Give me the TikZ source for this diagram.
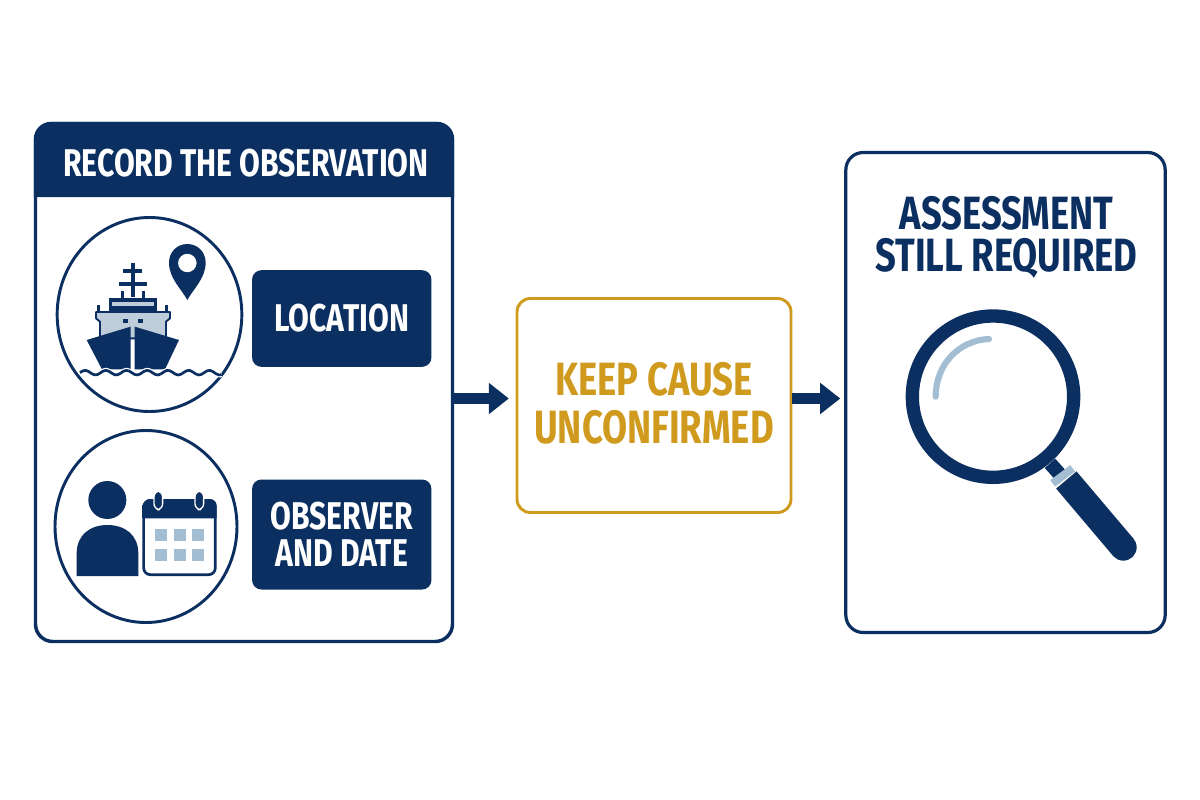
\documentclass[tikz,border=0pt]{standalone}
\usepackage{fontspec}
\setmainfont{Fira Sans}[FakeStretch=0.78]
\usetikzlibrary{arrows.meta,shapes.geometric}
\definecolor{navy}{HTML}{0B2F60}
\definecolor{gold}{HTML}{CF9A1E}
\definecolor{pale}{HTML}{A3BDD3}
\definecolor{deck}{HTML}{BFCCDA}
\tikzset{
  panel/.style={draw=navy,line width=2.6pt,rounded corners=13pt,fill=white,inner sep=0pt},
  goldbox/.style={draw=gold,line width=2.2pt,rounded corners=10pt,fill=white,inner sep=0pt},
  tag/.style={fill=navy,rounded corners=7pt,text=white,align=center,inner sep=0pt,font=\fontsize{29}{28}\selectfont\bfseries},
  ring/.style={draw=navy,line width=2.2pt,fill=white,ellipse,inner sep=0pt},
  title/.style={text=white,inner sep=0pt,font=\fontsize{29}{28}\selectfont\bfseries},
  big/.style={align=center,inner sep=0pt,font=\fontsize{35}{36}\selectfont\bfseries},
  bigtight/.style={align=center,inner sep=0pt,font=\fontsize{35}{32}\selectfont\bfseries},
  flow/.style={navy,line width=8.2pt,-{Triangle[length=15pt,width=22.5pt]}},
  icon/.style={scale=0.33333},
}
\begin{document}
\begin{tikzpicture}[x=0.75pt,y=-0.75pt]
\useasboundingbox[fill=white] (0,0) rectangle (1200,800);
% panels
\node[panel,minimum width=312.75pt,minimum height=388.5pt] (left) at (244,382.5) {};
\node[goldbox,minimum width=205.5pt,minimum height=160.5pt] (mid) at (654,405.5) {};
\node[panel,line width=2.4pt,minimum width=239.5pt,minimum height=360pt] (right) at (1005.5,392.5) {};
% header band
\fill[navy] (left.west |- 0,197) [rounded corners=13pt] -- (left.north west) -- (left.north east) [sharp corners] -- (left.east |- 0,197) -- cycle;
\node[title] (head) at (246,163.5) {RECORD THE OBSERVATION};
% circles
\node[ring,minimum width=138.5pt,minimum height=145.5pt] (c1) at (149.5,314.5) {};
\node[ring,minimum width=136.5pt,minimum height=144pt] (c2) at (146,526.5) {};
% tags
\node[tag,minimum width=134.5pt,minimum height=72.5pt] (loc) at (341.75,318.5) {LOCATION};
\node[tag,minimum width=134.5pt,minimum height=82.5pt] (obs) at (341.75,534.5) {OBSERVER\\AND DATE};
% texts
\node[big,text=gold] (keep) at (654,403) {KEEP CAUSE\\UNCONFIRMED};
\node[bigtight,text=navy] (assess) at (1006.5,237.5) {ASSESSMENT\\STILL REQUIRED};
% arrows
\coordinate (ya) at (0,398.5);
\draw[flow,shorten >=5pt] (left.east |- ya) -- (mid.west |- ya);
\draw[flow,shorten >=3pt] (mid.east |- ya) -- (right.west |- ya);
% ship
\begin{scope}[shift={(40,210)},icon]
  \fill[navy] (272,160) rectangle (284,262);
  \fill[navy] (250,178) rectangle (306,188);
  \fill[navy] (236,216) rectangle (322,228);
  \fill[navy] (244,244) rectangle (252,268);
  \fill[navy] (306,244) rectangle (314,268);
  \fill[navy] (207,265) rectangle (350,312);
  \fill[deck] (215,276) rectangle (342,288);
  \fill[navy] (172,284) rectangle (180,310);
  \fill[navy] (376,284) rectangle (384,310);
  \filldraw[fill=deck,draw=navy,line width=1.4pt,line join=round] (168,306) -- (390,306) -- (390,325) -- (378,335) -- (378,385) -- (180,385) -- (180,335) -- (168,325) -- cycle;
  \fill[navy] (249,327) rectangle (263,338);
  \fill[navy] (294,327) rectangle (308,338);
  \fill[navy] (140,390) -- (272,350) -- (272,478) -- (186,478) -- cycle;
  \fill[navy] (284,350) -- (417,390) -- (375,478) -- (284,478) -- cycle;
  \draw[white,line width=3.8pt] plot[smooth,domain=0:425,samples=50] ({120+\x},{488-7*sin(\x*5.8)});
  \draw[navy,line width=2pt] plot[smooth,domain=0:425,samples=50] ({120+\x},{488-7*sin(\x*5.8)});
  % pin
  \fill[navy,even odd rule] (442,270) .. controls (425,238) and (387,205) .. (387,158) .. controls (387,125) and (412,102) .. (442,102) .. controls (472,102) and (497,125) .. (497,158) .. controls (497,205) and (459,238) .. (442,270) -- cycle (442,159) circle [radius=28];
\end{scope}
% person and calendar
\begin{scope}[shift={(40,425)},icon]
  \fill[navy] (202,225) circle [radius=57];
  \fill[navy] (110,453) -- (110,385) .. controls (110,330) and (150,300) .. (202,300) .. controls (255,300) and (295,330) .. (295,385) -- (295,453) -- cycle;
  \filldraw[fill=white,draw=navy,line width=2pt,rounded corners=5pt] (311,226) rectangle (526,449);
  \fill[navy] (311,280) [rounded corners=5pt] -- (311,222) -- (530,222) [sharp corners] -- (530,280) -- cycle;
  \fill[navy] (307,280) rectangle (315,240);
  \foreach \cx in {355,478}
    \filldraw[fill=navy,draw=white,line width=1pt,rounded corners=4.5pt] (\cx-13,198) rectangle (\cx+13,254);
  \foreach \cy in {329,391}\foreach \cx in {362,419,475}
    \fill[pale] (\cx-18,\cy-18) rectangle (\cx+18,\cy+18);
\end{scope}
% magnifier
\begin{scope}[shift={(890,300)},icon]
  \draw[navy,line width=10.5pt] (480,490) -- (522,537);
  \draw[navy,line width=20pt] (529,540) -- (700,742);
  \fill[navy] (700,742) circle [radius=40];
  \draw[pale,line width=6pt] (488,550) -- (548,505);
  \draw[navy,line width=10pt] (309,290) circle [radius=242];
  \draw[pale,line width=4.6pt,line cap=round] (137,290) .. controls (137,195) and (205,121) .. (297,117);
\end{scope}
\end{tikzpicture}
\end{document}
